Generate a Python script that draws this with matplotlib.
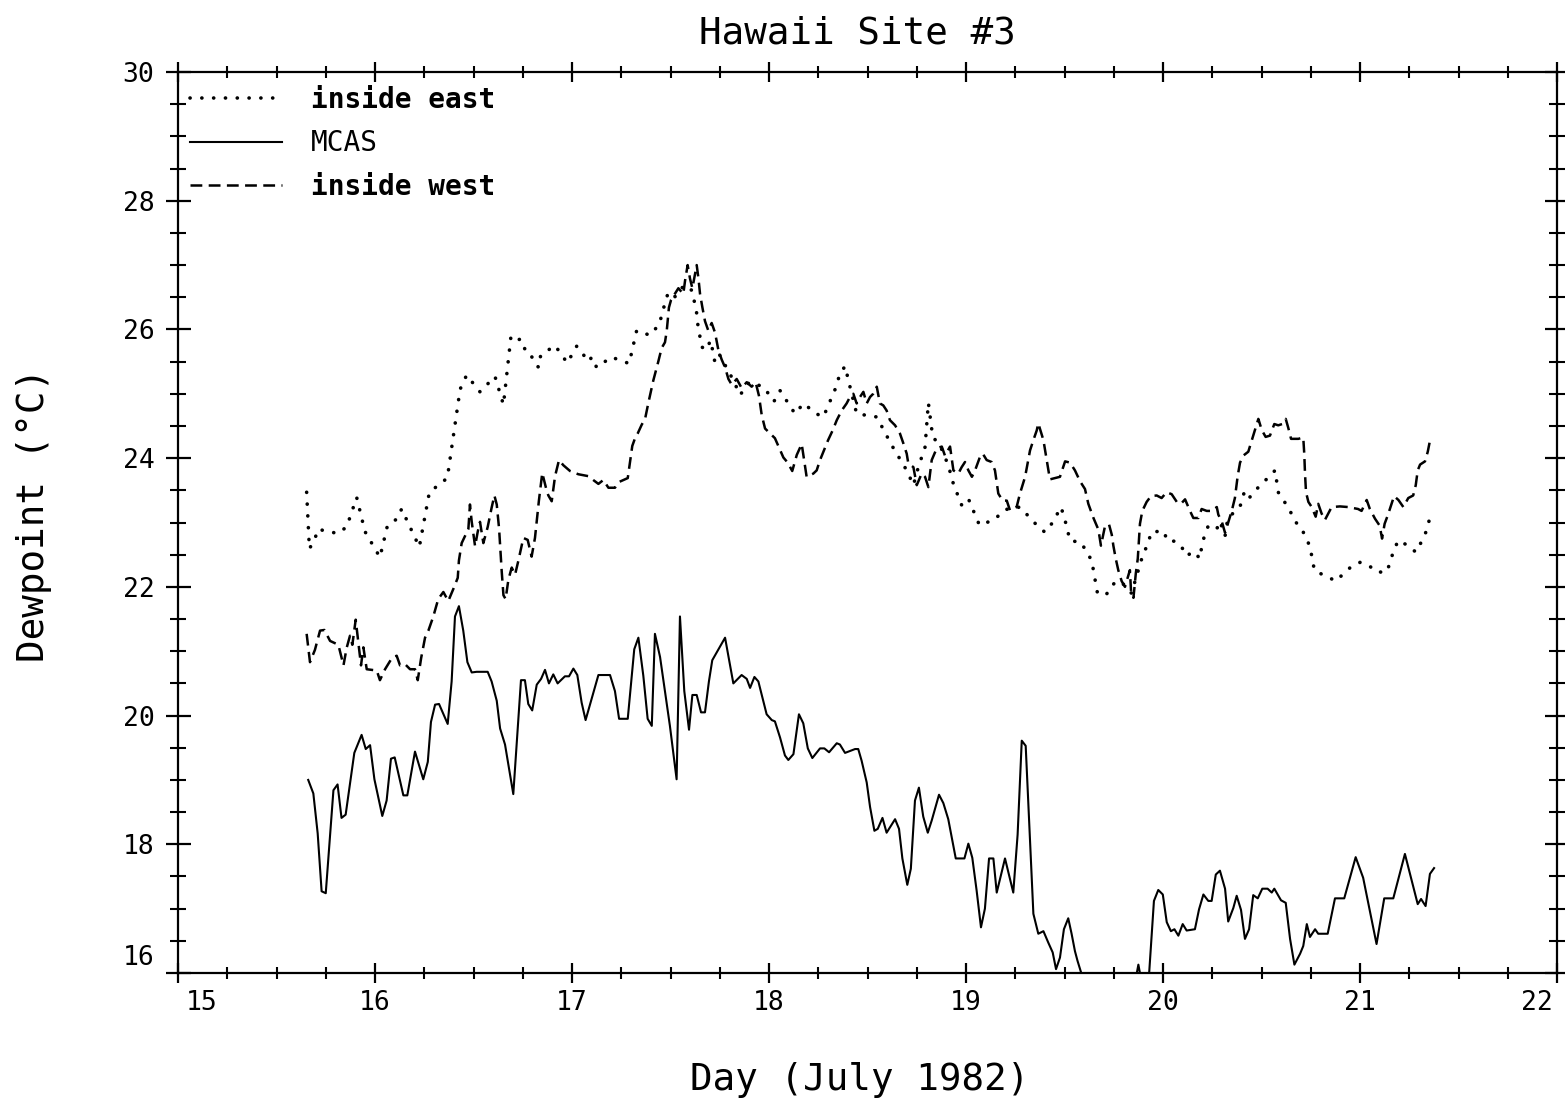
import matplotlib
matplotlib.use("Agg")
import matplotlib.pyplot as plt
import matplotlib.transforms as mtransforms
from matplotlib.ticker import MultipleLocator

# ---------------- data ----------------
mcas_day = [15.661, 15.687, 15.709, 15.729, 15.75, 15.789, 15.81, 15.83, 15.851, 15.895,
            15.932, 15.953, 15.975, 15.997, 16.037, 16.059, 16.081, 16.10, 16.144, 16.164,
            16.203, 16.245, 16.268, 16.284, 16.305, 16.325, 16.369, 16.389, 16.406, 16.426,
            16.448, 16.469, 16.491, 16.516, 16.572, 16.592, 16.618, 16.635, 16.66, 16.702,
            16.741, 16.761, 16.778, 16.798, 16.821, 16.843, 16.863, 16.883, 16.905, 16.927,
            16.964, 16.985, 17.007, 17.027, 17.049, 17.069, 17.134, 17.193, 17.218, 17.239,
            17.283, 17.316, 17.337, 17.362, 17.384, 17.405, 17.421, 17.447, 17.497, 17.531,
            17.548, 17.570, 17.594, 17.611, 17.633, 17.655, 17.675, 17.695, 17.712, 17.777,
            17.819, 17.861, 17.887, 17.904, 17.926, 17.946, 17.988, 18.014, 18.03, 18.056,
            18.081, 18.098, 18.124, 18.152, 18.174, 18.197, 18.22, 18.259, 18.281, 18.305,
            18.344, 18.36, 18.386, 18.437, 18.453, 18.47, 18.496, 18.513, 18.535, 18.552,
            18.576, 18.597, 18.64, 18.66, 18.677, 18.702, 18.72, 18.741, 18.761, 18.783,
            18.806, 18.826, 18.863, 18.885, 18.91, 18.948, 18.992, 19.012, 19.032, 19.054,
            19.076, 19.096, 19.117, 19.139, 19.156, 19.198, 19.24, 19.262, 19.283, 19.303,
            19.342, 19.367, 19.393, 19.418, 19.44, 19.457, 19.477, 19.497, 19.519, 19.536,
            19.553, 19.566, 19.59, 19.62, 19.68, 19.75, 19.82, 19.855, 19.875, 19.895,
            19.92, 19.954, 19.976, 19.999, 20.019, 20.04, 20.058, 20.078, 20.1, 20.12,
            20.162, 20.183, 20.205, 20.23, 20.247, 20.268, 20.289, 20.315, 20.331, 20.357,
            20.374, 20.396, 20.416, 20.437, 20.458, 20.481, 20.504, 20.531, 20.552, 20.565,
            20.599, 20.623, 20.645, 20.667, 20.696, 20.712, 20.73, 20.746, 20.772, 20.788,
            20.836, 20.873, 20.92, 20.978, 21.016, 21.084, 21.123, 21.169, 21.228, 21.293,
            21.31, 21.333, 21.355, 21.376]
mcas_dew = [19.0, 18.79, 18.17, 17.27, 17.24, 18.84, 18.93, 18.41, 18.46, 19.42,
            19.70, 19.48, 19.54, 19.01, 18.44, 18.68, 19.33, 19.35, 18.76, 18.76,
            19.44, 19.01, 19.28, 19.90, 20.17, 20.18, 19.87, 20.53, 21.54, 21.70,
            21.32, 20.83, 20.67, 20.68, 20.68, 20.53, 20.23, 19.80, 19.55, 18.78,
            20.55, 20.55, 20.18, 20.08, 20.48, 20.57, 20.71, 20.50, 20.64, 20.50,
            20.61, 20.61, 20.73, 20.63, 20.20, 19.93, 20.63, 20.63, 20.38, 19.95,
            19.95, 21.03, 21.21, 20.62, 19.95, 19.84, 21.27, 20.91, 19.84, 19.01,
            21.54, 20.38, 19.78, 20.32, 20.32, 20.05, 20.05, 20.53, 20.86, 21.21,
            20.50, 20.63, 20.57, 20.43, 20.60, 20.53, 20.02, 19.93, 19.91, 19.66,
            19.38, 19.31, 19.40, 20.02, 19.88, 19.49, 19.34, 19.49, 19.49, 19.43,
            19.57, 19.55, 19.42, 19.48, 19.48, 19.30, 18.96, 18.58, 18.21, 18.24,
            18.41, 18.18, 18.39, 18.24, 17.78, 17.37, 17.62, 18.68, 18.88, 18.43,
            18.18, 18.37, 18.77, 18.64, 18.39, 17.78, 17.78, 18.01, 17.79, 17.28,
            16.71, 17.00, 17.78, 17.78, 17.25, 17.78, 17.25, 18.15, 19.61, 19.53,
            16.92, 16.61, 16.65, 16.47, 16.32, 16.06, 16.24, 16.68, 16.85, 16.61,
            16.34, 16.19, 15.95, 15.65, 15.4, 15.5, 15.6, 15.8, 16.13, 15.8,
            15.55, 17.12, 17.29, 17.22, 16.79, 16.65, 16.68, 16.58, 16.76, 16.66,
            16.68, 16.99, 17.22, 17.12, 17.12, 17.53, 17.59, 17.31, 16.80, 17.01,
            17.20, 16.98, 16.53, 16.68, 17.21, 17.16, 17.31, 17.31, 17.25, 17.31,
            17.13, 17.09, 16.53, 16.13, 16.30, 16.42, 16.76, 16.56, 16.68, 16.61,
            16.61, 17.16, 17.16, 17.80, 17.48, 16.45, 17.16, 17.16, 17.85, 17.07,
            17.15, 17.04, 17.54, 17.63]

east_day = [15.653, 15.667, 15.695, 15.712, 15.733, 15.81, 15.856, 15.907, 15.949, 16.025,
            16.063, 16.113, 16.135, 16.225, 16.276, 16.367, 16.432, 16.465, 16.533, 16.609,
            16.652, 16.69, 16.713, 16.74, 16.76, 16.785, 16.808, 16.831, 16.841, 16.914,
            16.976, 17.024, 17.085, 17.1, 17.125, 17.2, 17.29, 17.328, 17.396, 17.443,
            17.472, 17.489, 17.523, 17.545, 17.579, 17.61, 17.633, 17.64, 17.65, 17.658,
            17.68, 17.704, 17.726, 17.75, 17.819, 17.853, 17.9, 17.971, 18.0, 18.025,
            18.056, 18.132, 18.175, 18.24, 18.276, 18.344, 18.357, 18.386, 18.411, 18.445,
            18.547, 18.623, 18.699, 18.733, 18.758, 18.792, 18.809, 18.831, 18.868, 18.91,
            18.936, 18.978, 19.012, 19.068, 19.142, 19.198, 19.274, 19.359, 19.40, 19.44,
            19.482, 19.50, 19.528, 19.584, 19.638, 19.658, 19.668, 19.714, 19.76, 19.807,
            19.84, 19.9, 19.925, 19.939, 20.002, 20.024, 20.061, 20.091, 20.12, 20.154,
            20.188, 20.196, 20.21, 20.23, 20.273, 20.289, 20.315, 20.329, 20.369, 20.396,
            20.413, 20.437, 20.467, 20.497, 20.535, 20.569, 20.585, 20.619, 20.645, 20.67,
            20.701, 20.73, 20.746, 20.758, 20.768, 20.797, 20.839, 20.877, 20.915, 20.954,
            21.0, 21.046, 21.084, 21.135, 21.157, 21.169, 21.195, 21.245, 21.283, 21.31,
            21.333, 21.35]
east_dew = [23.47, 22.59, 22.75, 22.90, 22.88, 22.83, 22.93, 23.39, 22.86, 22.46,
            22.95, 23.06, 23.21, 22.62, 23.47, 23.69, 25.07, 25.29, 25.03, 25.27,
            24.83, 25.89, 25.83, 25.85, 25.70, 25.66, 25.48, 25.41, 25.60, 25.75,
            25.48, 25.74, 25.50, 25.57, 25.41, 25.57, 25.47, 25.98, 25.91, 26.08,
            26.41, 26.58, 26.51, 26.62, 26.69, 26.60, 26.25, 26.04, 25.88, 25.73,
            25.68, 25.83, 25.48, 25.60, 25.21, 24.98, 25.18, 25.11, 24.99, 24.88,
            25.05, 24.69, 24.85, 24.69, 24.64, 25.13, 25.29, 25.43, 25.11, 24.69,
            24.64, 24.20, 23.81, 23.58, 23.86, 24.17, 24.86, 24.33, 24.20, 23.89,
            23.60, 23.27, 23.37, 22.96, 23.04, 23.20, 23.24, 22.96, 22.85, 23.00,
            23.24, 23.07, 22.72, 22.69, 22.41, 22.06, 21.89, 21.89, 22.09, 22.03,
            21.90, 22.52, 22.67, 22.85, 22.87, 22.71, 22.71, 22.64, 22.48, 22.55,
            22.44, 22.62, 22.79, 22.95, 22.90, 23.02, 22.79, 23.07, 23.18, 23.28,
            23.48, 23.38, 23.49, 23.59, 23.70, 23.81, 23.47, 23.31, 23.18, 23.02,
            22.91, 22.75, 22.61, 22.44, 22.26, 22.21, 22.15, 22.09, 22.20, 22.31,
            22.38, 22.33, 22.23, 22.23, 22.41, 22.56, 22.72, 22.64, 22.54, 22.69,
            22.84, 23.02]

west_day = [15.653, 15.67, 15.695, 15.721, 15.743, 15.772, 15.814, 15.84, 15.856, 15.873,
            15.885, 15.902, 15.919, 15.929, 15.941, 15.958, 16.009, 16.025, 16.051, 16.085,
            16.11, 16.127, 16.152, 16.178, 16.203, 16.217, 16.234, 16.254, 16.271, 16.296,
            16.321, 16.347, 16.372, 16.398, 16.42, 16.426, 16.44, 16.457, 16.474, 16.482,
            16.491, 16.508, 16.521, 16.533, 16.55, 16.572, 16.592, 16.606, 16.618, 16.63,
            16.643, 16.652, 16.663, 16.677, 16.694, 16.711, 16.728, 16.753, 16.775, 16.795,
            16.812, 16.832, 16.849, 16.871, 16.88, 16.897, 16.914, 16.934, 16.956, 16.99,
            17.032, 17.083, 17.108, 17.134, 17.159, 17.185, 17.218, 17.239, 17.261, 17.283,
            17.294, 17.306, 17.32, 17.333, 17.354, 17.371, 17.387, 17.413, 17.438, 17.455,
            17.472, 17.481, 17.492, 17.503, 17.54, 17.565, 17.574, 17.587, 17.599, 17.611,
            17.633, 17.642, 17.65, 17.662, 17.675, 17.692, 17.709, 17.726, 17.743, 17.76,
            17.777, 17.794, 17.811, 17.836, 17.861, 17.887, 17.912, 17.932, 17.949, 17.963,
            17.98, 18.0, 18.03, 18.047, 18.073, 18.095, 18.118, 18.141, 18.166, 18.18,
            18.191, 18.225, 18.242, 18.259, 18.276, 18.3, 18.323, 18.344, 18.369, 18.394,
            18.411, 18.428, 18.445, 18.462, 18.479, 18.496, 18.513, 18.529, 18.547, 18.563,
            18.58, 18.597, 18.614, 18.64, 18.665, 18.682, 18.699, 18.707, 18.733, 18.75,
            18.775, 18.792, 18.809, 18.826, 18.851, 18.877, 18.893, 18.919, 18.936, 18.961,
            18.978, 18.995, 19.012, 19.03, 19.046, 19.071, 19.085, 19.105, 19.13, 19.147,
            19.164, 19.186, 19.207, 19.223, 19.257, 19.274, 19.3, 19.325, 19.342, 19.359,
            19.367, 19.393, 19.426, 19.452, 19.477, 19.503, 19.528, 19.553, 19.579, 19.604,
            19.621, 19.647, 19.672, 19.685, 19.706, 19.726, 19.74, 19.748, 19.76, 19.773,
            19.79, 19.807, 19.832, 19.838, 19.85, 19.862, 19.872, 19.883, 19.895, 19.917,
            19.939, 19.968, 19.993, 20.018, 20.044, 20.07, 20.091, 20.112, 20.137, 20.154,
            20.18, 20.196, 20.222, 20.247, 20.273, 20.281, 20.298, 20.315, 20.331, 20.349,
            20.365, 20.379, 20.391, 20.408, 20.433, 20.45, 20.47, 20.484, 20.501, 20.521,
            20.543, 20.565, 20.585, 20.605, 20.623, 20.636, 20.65, 20.687, 20.712, 20.717,
            20.721, 20.726, 20.738, 20.755, 20.775, 20.788, 20.805, 20.822, 20.839, 20.856,
            20.898, 20.94, 20.99, 21.008, 21.025, 21.034, 21.05, 21.076, 21.1, 21.112,
            21.125, 21.142, 21.16, 21.173, 21.195, 21.22, 21.245, 21.27, 21.283, 21.293,
            21.305, 21.33, 21.344, 21.355]
west_dew = [21.27, 20.83, 21.02, 21.32, 21.33, 21.16, 21.10, 20.78, 21.05, 21.24,
            21.10, 21.49, 21.05, 20.78, 21.06, 20.72, 20.70, 20.55, 20.72, 20.89,
            20.93, 20.78, 20.80, 20.72, 20.72, 20.55, 20.89, 21.21, 21.32, 21.54,
            21.81, 21.92, 21.78, 21.97, 22.14, 22.41, 22.68, 22.79, 22.90, 23.28,
            23.01, 22.63, 22.85, 23.01, 22.68, 22.93, 23.23, 23.42, 23.28, 22.90,
            22.25, 21.87, 21.81, 22.11, 22.30, 22.19, 22.41, 22.76, 22.73, 22.47,
            22.76, 23.34, 23.77, 23.50, 23.42, 23.33, 23.72, 23.97, 23.89, 23.80,
            23.75, 23.72, 23.66, 23.60, 23.66, 23.54, 23.54, 23.63, 23.66, 23.69,
            23.93, 24.19, 24.31, 24.38, 24.52, 24.61, 24.85, 25.21, 25.50, 25.71,
            25.80, 25.98, 26.34, 26.46, 26.64, 26.55, 26.76, 27.00, 26.79, 26.64,
            27.00, 26.79, 26.55, 26.34, 26.13, 25.98, 26.10, 25.95, 25.68, 25.53,
            25.41, 25.23, 25.14, 25.23, 25.09, 25.18, 25.11, 25.18, 24.97, 24.67,
            24.46, 24.40, 24.31, 24.19, 24.01, 23.93, 23.80, 24.05, 24.22, 23.94,
            23.71, 23.76, 23.81, 23.97, 24.10, 24.28, 24.43, 24.59, 24.74, 24.85,
            24.95, 25.00, 24.85, 24.95, 25.03, 24.85, 24.95, 25.00, 25.11, 24.85,
            24.82, 24.74, 24.59, 24.51, 24.38, 24.23, 24.07, 23.92, 23.86, 23.58,
            23.76, 23.71, 23.55, 23.97, 24.15, 24.18, 24.04, 24.18, 23.81, 23.76,
            23.86, 23.94, 23.81, 23.71, 23.81, 24.02, 24.07, 23.97, 23.94, 23.81,
            23.45, 23.34, 23.34, 23.19, 23.24, 23.45, 23.71, 24.12, 24.28, 24.43,
            24.54, 24.28, 23.67, 23.69, 23.71, 23.95, 23.93, 23.81, 23.64, 23.52,
            23.29, 23.07, 22.89, 22.64, 22.95, 22.97, 22.81, 22.64, 22.44, 22.26,
            22.09, 22.00, 22.26, 21.92, 21.83, 22.21, 22.44, 22.98, 23.18, 23.32,
            23.41, 23.42, 23.38, 23.47, 23.44, 23.32, 23.29, 23.36, 23.18, 23.07,
            23.07, 23.21, 23.18, 23.18, 23.24, 23.12, 23.02, 22.84, 23.00, 23.18,
            23.38, 23.72, 23.93, 24.04, 24.10, 24.27, 24.47, 24.61, 24.44, 24.33,
            24.35, 24.53, 24.51, 24.53, 24.61, 24.47, 24.30, 24.30, 24.32, 24.07,
            23.75, 23.47, 23.32, 23.24, 23.09, 23.29, 23.14, 23.04, 23.14, 23.24,
            23.25, 23.24, 23.21, 23.18, 23.29, 23.35, 23.21, 23.06, 22.95, 22.75,
            22.98, 23.12, 23.29, 23.41, 23.35, 23.24, 23.38, 23.42, 23.58, 23.81,
            23.90, 23.95, 24.10, 24.27]

x_ticks = [15, 16, 17, 18, 19, 20, 21, 22]
y_ticks = [16, 18, 20, 22, 24, 26, 28, 30]
title_text = "Hawaii Site #3"
x_label = "Day (July 1982)"
y_label = "Dewpoint (\u00b0C)"
series_labels = ["inside east", "MCAS", "inside west"]

# ---------------- figure ----------------
plt.rcParams['lines.scale_dashes'] = False
MONO = ['DejaVu Sans Mono', 'DejaVu Sans']

W, H = 1565, 1113
fig = plt.figure(figsize=(W / 100, H / 100), dpi=100)
L, R, T, B = 178, 1557, 72, 973
ax = fig.add_axes([L / W, 1 - B / H, (R - L) / W, (B - T) / H])

ax.plot(east_day, east_dew, color='black', lw=2.6, linestyle=(0, (0.1, 8.4)),
        dash_capstyle='round', label=series_labels[0])
ax.plot(mcas_day, mcas_dew, color='black', lw=1.5, linestyle='-',
        label=series_labels[1])
ax.plot(west_day, west_dew, color='black', lw=1.8, linestyle=(0, (8.5, 4.6)),
        label=series_labels[2])

ax.set_xlim(15, 22)
ax.set_ylim(16, 30)
ax.set_xticks(x_ticks)
ax.set_yticks(y_ticks)
ax.xaxis.set_minor_locator(MultipleLocator(0.25))
ax.yaxis.set_minor_locator(MultipleLocator(0.5))

for sp in ax.spines.values():
    sp.set_linewidth(1.6)

ax.tick_params(axis='x', which='major', direction='inout', length=14, width=1.6,
               top=True, bottom=True, labelsize=19, pad=5)
ax.tick_params(axis='x', which='minor', direction='inout', length=9, width=1.5,
               top=True, bottom=True)
ax.tick_params(axis='y', which='major', direction='inout', length=18, width=1.6,
               left=True, right=True, labelsize=19, pad=8)
ax.tick_params(axis='y', which='minor', direction='inout', length=11, width=1.5,
               left=True, right=True)

for lab in ax.get_xticklabels() + ax.get_yticklabels():
    lab.set_family(MONO)

# nudge end labels inward as in the original plot
xl = ax.get_xticklabels()
xl[0].set_transform(xl[0].get_transform() +
                    mtransforms.ScaledTranslation(24 / 100, 0, fig.dpi_scale_trans))
xl[-1].set_transform(xl[-1].get_transform() +
                     mtransforms.ScaledTranslation(-20 / 100, 0, fig.dpi_scale_trans))
yl = ax.get_yticklabels()
yl[0].set_transform(yl[0].get_transform() +
                    mtransforms.ScaledTranslation(0, 18 / 100, fig.dpi_scale_trans))

ax.set_xlabel(x_label, fontsize=27, family=MONO)
ax.xaxis.set_label_coords((860 - L) / (R - L), (B - 1062) / (B - T))
ax.set_ylabel(y_label, fontsize=27, family=MONO)
ax.yaxis.set_label_coords((52 - L) / (R - L), (B - 515) / (B - T))

fig.text(857 / W, 1 - 33 / H, title_text, fontsize=27, family=MONO,
         ha='center', va='center')

leg = ax.legend(loc='upper left', bbox_to_anchor=((190 - L) / (R - L), (B - 86) / (B - T)),
                frameon=False, handlelength=3.3, handletextpad=1.05,
                labelspacing=0.55, borderpad=0, borderaxespad=0,
                prop={'family': MONO, 'size': 20})
texts = leg.get_texts()
texts[0].set_fontweight('bold')
texts[2].set_fontweight('bold')

fig.savefig('out.png', dpi=100, facecolor='white')
